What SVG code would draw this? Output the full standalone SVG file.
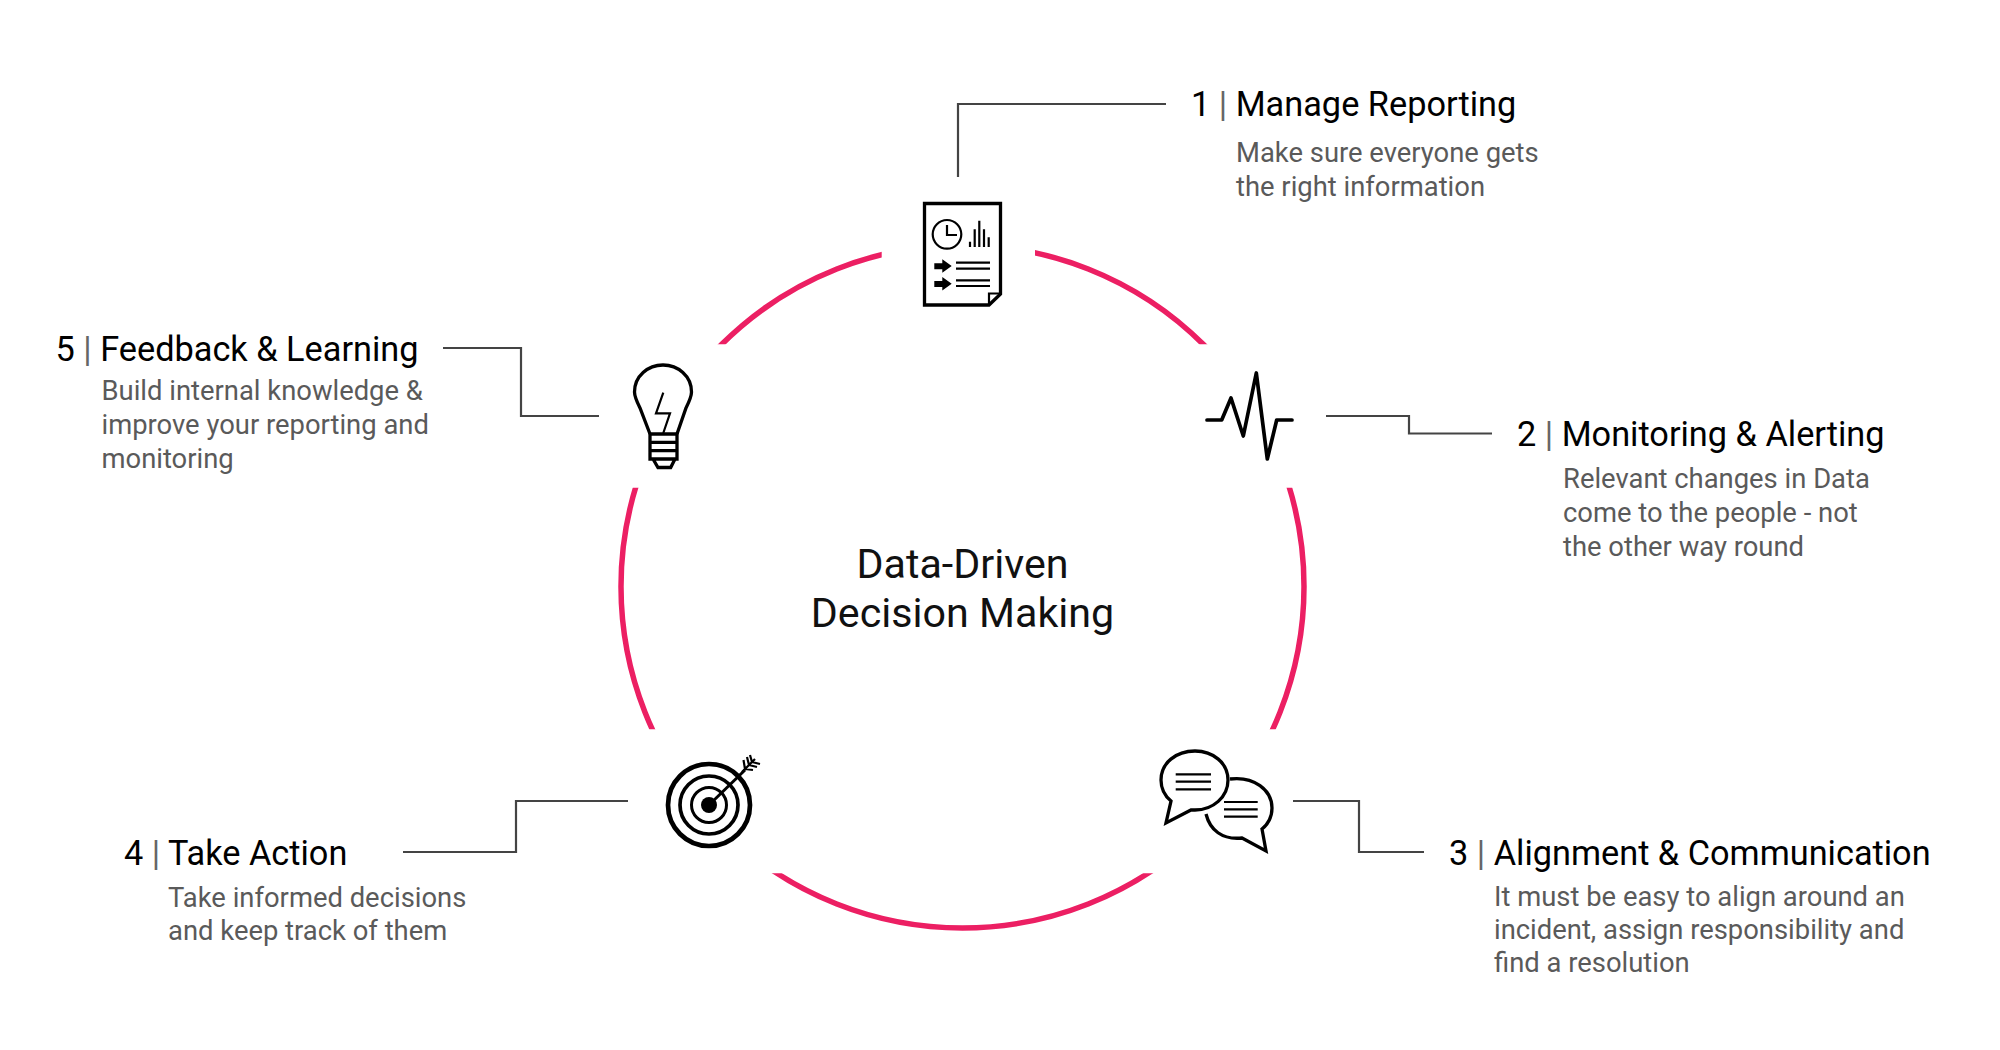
<svg xmlns="http://www.w3.org/2000/svg" width="2000" height="1050" viewBox="0 0 2000 1050">
<style>
text{font-family:Roboto,"Liberation Sans",sans-serif}
.t{font-size:34.3px;fill:#000}
.t tspan{fill:#666}
.d{font-size:27.4px;fill:#5a5a5a}
.c{font-size:41.2px;fill:#111;text-anchor:middle}
.l{fill:none;stroke:#444;stroke-width:2.2}
.a{fill:none;stroke:#ec1f63;stroke-width:5.5}
.i{fill:none;stroke:#000;stroke-width:3.3}
.j{fill:none;stroke:#000;stroke-width:2.2}
</style>
<defs><clipPath id="ringclip"><rect x="0" y="0" width="881.7" height="344.3"/><rect x="1035" y="0" width="965" height="344.3"/><rect x="0" y="487.7" width="2000" height="241.6"/><rect x="0" y="873.3" width="2000" height="177"/></clipPath></defs>
<rect width="2000" height="1050" fill="#fff"/>
<g id="ring" clip-path="url(#ringclip)"><circle class="a" cx="962.5" cy="586.5" r="341.5"/></g>
<g id="connectors">
<path class="l" d="M958 177V104H1166"/>
<path class="l" d="M1326 416H1409V433.5H1492"/>
<path class="l" d="M1293 801H1359V852H1424"/>
<path class="l" d="M628 801H516V852H403"/>
<path class="l" d="M599 416H521V348H443"/>
</g>
<g id="center"><text class="c" x="962.5" y="578">Data-Driven</text><text class="c" x="962.5" y="626.5">Decision Making</text></g>
<g id="node1">
<path class="i" d="M924.5 203.5H1000.5V294L989 305H924.5Z"/><path class="j" d="M989 305V293.5H1000.5"/>
<circle class="j" cx="947" cy="234.3" r="14.3"/><path class="j" d="M947 225V235H957"/>
<path class="j" d="M970 247V241.7M974.7 247V229.3M979.3 247V220.7M984 247V229.3M988.7 247V237.3"/>
<path d="M934.3 263.3H942.3V259.3L951.7 266L942.3 272.7V269.3H934.3ZM934.3 281H942.3V277L951.7 283.7L942.3 290.4V287H934.3Z"/>
<path class="j" d="M956 262.7H990M956 268.7H990M956 280.3H990M956 286H990"/>
<text class="t" x="1191" y="116">1 <tspan>|</tspan> Manage Reporting</text>
<text class="d" x="1236" y="162">Make sure everyone gets</text><text class="d" x="1236" y="196">the right information</text>
</g>
<g id="node2">
<path d="M1207 420H1221.7L1231 398L1243.3 436L1256.3 373L1267.3 459L1276.7 420H1292" fill="none" stroke="#000" stroke-width="3.7" stroke-linejoin="round" stroke-linecap="round"/>
<text class="t" x="1517" y="446">2 <tspan>|</tspan> Monitoring &amp; Alerting</text>
<text class="d" x="1563" y="488">Relevant changes in Data</text><text class="d" x="1563" y="522">come to the people - not</text><text class="d" x="1563" y="556">the other way round</text>
</g>
<g id="node3">
<path class="i" d="M1171 801C1165 796 1161 788 1161 780C1161 763 1176 751 1195 751C1213 751 1228 763 1228 780C1228 797 1213 810 1195 810L1191 810L1166 823Z"/>
<path class="i" d="M1230 779C1254 776 1272 790 1272 808C1272 816 1268 824 1262 829L1266 851L1242 838C1222 840 1210 830 1206 814"/>
<path class="j" d="M1175.7 774.3H1211M1175.7 781.7H1211M1175.7 789.3H1211M1224 802H1257.7M1224 809.3H1257.7M1224 816.7H1257.7"/>
<text class="t" x="1449" y="864.5">3 <tspan>|</tspan> Alignment &amp; Communication</text>
<text class="d" x="1494" y="906">It must be easy to align around an</text><text class="d" x="1494" y="939">incident, assign responsibility and</text><text class="d" x="1494" y="972">find a resolution</text>
</g>
<g id="node4">
<circle cx="709" cy="805" r="41" fill="none" stroke="#000" stroke-width="4.7"/><circle cx="709" cy="805" r="29" fill="none" stroke="#000" stroke-width="3.7"/><circle cx="709" cy="805" r="17.5" fill="none" stroke="#000" stroke-width="3"/><circle cx="709" cy="805" r="8"/>
<path d="M709 805L745 770" fill="none" stroke="#000" stroke-width="3"/>
<path class="j" d="M742 772L755 759M745 769L743.5 760M745 769L753 770M749 765L747 757M749 765L757 767M752 762L750 755M752 762L760 764"/>
<text class="t" x="124" y="864.5">4 <tspan>|</tspan> Take Action</text>
<text class="d" x="168" y="907">Take informed decisions</text><text class="d" x="168" y="939.5">and keep track of them</text>
</g>
<g id="node5">
<path class="i" d="M650 434L640 408C636 400 634.5 396 634.5 392C634.5 376 648 365 663 365C678 365 691.5 376 691.5 392C691.5 396 690 400 686 408L677 434"/>
<path class="i" d="M650 434H677V459H650ZM650 442.3H677M650 450.7H677M653 459L658 467.5H670.7L675 459"/>
<path class="j" d="M663.3 392.7L656 413.3H670L663.3 433"/>
<text class="t" x="55.5" y="361">5 <tspan>|</tspan> Feedback &amp; Learning</text>
<text class="d" x="101.5" y="400">Build internal knowledge &amp;</text><text class="d" x="101.5" y="434">improve your reporting and</text><text class="d" x="101.5" y="468">monitoring</text>
</g>
</svg>
